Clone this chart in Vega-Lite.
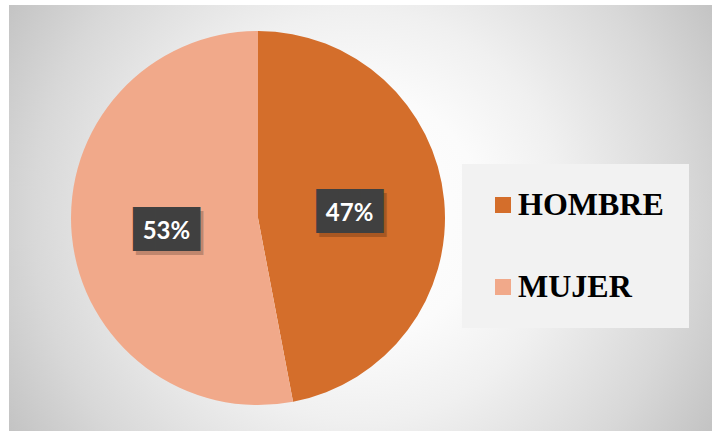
{
  "$schema": "https://vega.github.io/schema/vega-lite/v6.json",
  "background": "#ffffff",
  "padding": {"left": 9, "top": 5, "right": 0, "bottom": 0},
  "autosize": {"type": "pad"},
  "spacing": 0,
  "config": {
    "view": {"stroke": null},
    "concat": {"spacing": 0},
    "legend": {
      "orient": "none",
      "legendX": 453,
      "legendY": 159,
      "symbolType": "square",
      "symbolSize": 256,
      "symbolStrokeWidth": 0,
      "labelFont": "Liberation Serif",
      "labelFontWeight": "bold",
      "labelFontSize": 32,
      "labelColor": "#000000",
      "labelOffset": -1,
      "rowPadding": 50,
      "padding": 25,
      "fillColor": "#f2f2f2",
      "labelLimit": 300
    }
  },
  "hconcat": [
    {
      "width": 498,
      "height": 426,
      "view": {
        "stroke": null,
        "fill": {
          "gradient": "radial",
          "x1": 0.7048, "y1": 0.496, "r1": 0,
          "x2": 0.7048, "y2": 0.496, "r2": 0.8213,
          "stops": [
            {"offset": 0, "color": "#ffffff"},
            {"offset": 0.3, "color": "#fbfbfb"},
            {"offset": 0.5, "color": "#f0f0f0"},
            {"offset": 0.8, "color": "#d8d8d8"},
            {"offset": 1, "color": "#c4c4c4"}
          ]
        }
      },
      "data": {
        "values": [
          {"sexo": "HOMBRE", "pct": 0.47},
          {"sexo": "MUJER", "pct": 0.53}
        ]
      },
      "encoding": {
        "theta": {"field": "pct", "type": "quantitative", "stack": true},
        "order": {"field": "sexo", "sort": "ascending"},
        "detail": {"field": "sexo", "type": "nominal"}
      },
      "layer": [
        {
          "mark": {"type": "arc", "outerRadius": 187},
          "encoding": {
            "color": {
              "field": "sexo",
              "type": "nominal",
              "title": null,
              "scale": {"domain": ["HOMBRE", "MUJER"], "range": ["#D46E2B", "#F1A98A"]}
            }
          }
        },
        {
          "mark": {"type": "text", "radius": 92, "dx": 3, "dy": 8, "font": "DejaVu Sans Mono", "fontSize": 37, "baseline": "middle", "align": "center", "color": "#000000", "opacity": 0.2},
          "encoding": {"text": {"value": "███"}}
        },
        {
          "mark": {"type": "text", "radius": 92, "dy": 4, "font": "DejaVu Sans Mono", "fontSize": 37, "baseline": "middle", "align": "center", "color": "#404040"},
          "encoding": {"text": {"value": "███"}}
        },
        {
          "mark": {"type": "text", "radius": 92, "dy": 5, "font": "Lato", "fontWeight": "bold", "fontSize": 24, "baseline": "middle", "align": "center", "color": "#ffffff"},
          "encoding": {"text": {"field": "pct", "type": "quantitative", "format": ".0%"}}
        }
      ]
    },
    {
      "width": 205,
      "height": 426,
      "view": {
        "stroke": null,
        "fill": {
          "gradient": "radial",
          "x1": -0.0857, "y1": 0.4953, "r1": 0,
          "x2": -0.0857, "y2": 0.4953, "r2": 0.96,
          "stops": [
            {"offset": 0, "color": "#ffffff"},
            {"offset": 0.3, "color": "#fbfbfb"},
            {"offset": 0.5, "color": "#f0f0f0"},
            {"offset": 0.8, "color": "#d8d8d8"},
            {"offset": 1, "color": "#c4c4c4"}
          ]
        }
      },
      "data": {"values": []},
      "mark": "rect",
      "encoding": {}
    }
  ]
}
